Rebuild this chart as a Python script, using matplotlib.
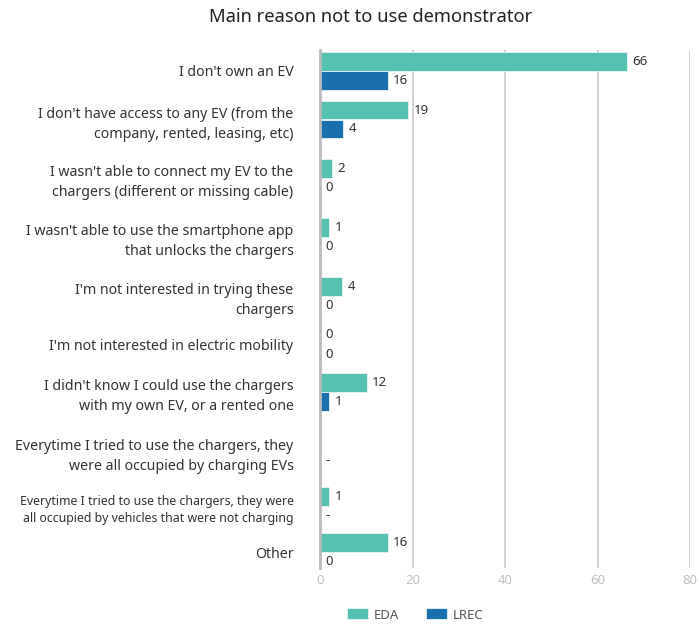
import matplotlib.pyplot as plt
import numpy as np

plt.rcParams['font.family'] = ['Noto Sans', 'DejaVu Sans']

categories = [
    "I don't own an EV",
    "I don't have access to any EV (from the\ncompany, rented, leasing, etc)",
    "I wasn't able to connect my EV to the\nchargers (different or missing cable)",
    "I wasn't able to use the smartphone app\nthat unlocks the chargers",
    "I'm not interested in trying these\nchargers",
    "I'm not interested in electric mobility",
    "I didn't know I could use the chargers\nwith my own EV, or a rented one",
    "Everytime I tried to use the chargers, they\nwere all occupied by charging EVs",
    "Everytime I tried to use the chargers, they were\nall occupied by vehicles that were not charging",
    "Other",
]
# value labels as printed
eda_labels = [66, 19, 2, 1, 4, 0, 12, None, 1, 16]
lrec_labels = [16, 4, 0, 0, 0, 0, 1, None, None, 0]
# bar lengths as drawn
eda_bars = [66.4, 19.1, 2.6, 2.0, 4.8, 0, 10.1, None, 2.0, 14.6]
lrec_bars = [14.6, 5.0, 0, 0, 0, 0, 2.0, None, None, 0]
series_names = ["EDA", "LREC"]
colors = ["#55c1b0", "#1a6faf"]

# row centres in pixels from top (rows with two-line labels are taller)
row_y = [71, 119.5, 178, 237, 296, 344.5, 392, 451.5, 506, 552]

fig = plt.figure(figsize=(7.0, 6.24), dpi=100)
ax = fig.add_axes([320 / 700, 1 - 568 / 624, 370 / 700, 518 / 624])

y = np.array(row_y)
off = 9.5
h = 18.5
for bars, labs, dy, col, name in [(eda_bars, eda_labels, -off, colors[0], series_names[0]),
                                  (lrec_bars, lrec_labels, off, colors[1], series_names[1])]:
    v = np.array([0 if b is None else b for b in bars], dtype=float)
    ax.barh(y + dy, v, height=h, color=col, label=name,
            edgecolor="#e8f6f3", linewidth=0.6, zorder=3)
    for i, (b, lab) in enumerate(zip(bars, labs)):
        if lab is None:
            if name == "LREC":
                ax.annotate("-", (0, y[i] + dy), xytext=(4, 0), textcoords="offset points",
                            va="center", ha="left", fontsize=9.5, color="#333333")
            continue
        ax.annotate(str(lab), (b, y[i] + dy), xytext=(4, 0), textcoords="offset points",
                    va="center", ha="left", fontsize=9.5, color="#333333", zorder=4)

ax.set_xlim(0, 80)
ax.set_ylim(568, 50)
ax.set_xticks([0, 20, 40, 60, 80])
ax.tick_params(axis="x", length=0, labelsize=9.5, labelcolor="#c0c0c0", pad=4)
ax.set_yticks(y)
ax.set_yticklabels(categories, fontsize=10.2, color="#333333", linespacing=1.47)
ax.get_yticklabels()[8].set_fontsize(8.85)
ax.tick_params(axis="y", length=0, pad=19)
ax.grid(axis="x", color="#cccccc", linewidth=1.3, zorder=0)
for s in ["top", "right", "bottom"]:
    ax.spines[s].set_visible(False)
ax.spines["left"].set_color("#bbbbbb")
ax.spines["left"].set_linewidth(2)
ax.spines["left"].set_zorder(5)

fig.text(371 / 700, 1 - 17 / 624, "Main reason not to use demonstrator", ha="center",
         va="center", fontsize=13.2, color="#222222")

fig.legend(loc="center", bbox_to_anchor=(415 / 700, 1 - 615 / 624), ncol=2, frameon=False,
           fontsize=9.5, handlelength=1.6, handleheight=0.9, handletextpad=0.45,
           columnspacing=2.0, labelcolor="#555555")

fig.savefig("out.png", dpi=100)
